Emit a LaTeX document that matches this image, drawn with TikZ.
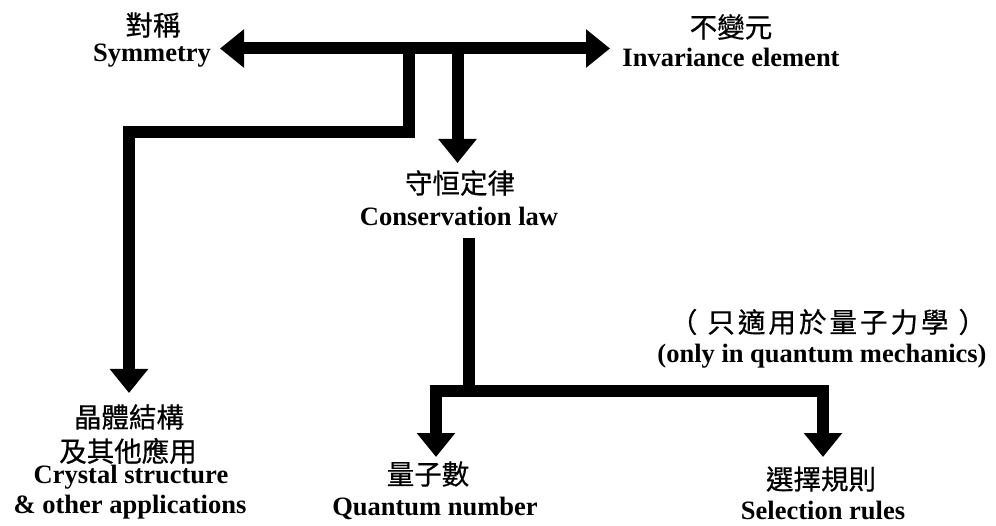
\documentclass[tikz,border=0pt]{standalone}
\usepackage{fontspec}
\setmainfont{Liberation Serif}
\newfontfamily\cjk[FakeBold=0.6]{Noto Sans CJK TC}
\newfontfamily\cjkwide[FakeBold=0.6,LetterSpace=11]{Noto Sans CJK TC}
\usetikzlibrary{arrows.meta}
\tikzset{
  bar/.style={line width=12pt, line join=miter, line cap=butt},
  tipd/.style={-{Triangle[width=37pt,length=24pt]}},
  lbl/.style={inner sep=0pt, align=center},
  zh/.style={lbl, font=\cjk\fontsize{27.5}{31}\selectfont},
  zhwide/.style={lbl, font=\cjkwide\fontsize{27.5}{31}\selectfont},
  en/.style={lbl, font=\bfseries\fontsize{26.5}{30}\selectfont},
}
\begin{document}
\begin{tikzpicture}[x=1pt,y=-1pt]
\useasboundingbox (0,0) rectangle (996,526);
% labels
\node[zh] (symzh) at (153,25) {對稱};
\node[en] (symen) at (152,56) {Symmetry};
\node[zh] (invzh) at (731,27) {不變元};
\node[en] (inven) at (731,57) {Invariance element};
\node[zh] (conzh) at (460,183) {守恒定律};
\node[en] (conen) at (459,216) {Conservation law};
\node[zh] (cr1) at (129,417) {晶體結構};
\node[zh] (cr2) at (128,451) {及其他應用};
\node[en] (cr3) at (131,477) {Crystal structure};
\node[en] (cr4) at (130,507) {\& other applications};
\node[zh] (qnzh) at (428,474) {量子數};
\node[en] (qnen) at (435,508) {Quantum number};
\node[zh] (slzh) at (821,479) {選擇規則};
\node[en] (slen) at (823,510) {Selection rules};
\node[zhwide] (qmzh) at (828,322) {（\hspace{10pt}只適用於量子力學\hspace{10pt}）};
\node[en] (qmen) at (822,356) {(only in quantum mechanics)};
% junction coordinates
\coordinate (tl) at (220,48.5);
\coordinate (tr) at (610,48.5);
\coordinate (j1) at (409,48.5);
\coordinate (k1) at (409,132);
\coordinate (k2) at (129,132);
\coordinate (crtip) at (129,393);
\coordinate (j2) at (457.5,48.5);
\coordinate (contip) at (457.5,163);
\coordinate (c0) at (469,238);
\coordinate (c1) at (469,391);
\coordinate (qa) at (436,391);
\coordinate (qtip) at (436,457);
\coordinate (sa) at (823,391);
\coordinate (stip) at (823,457);
% connectors
\draw[bar,{Triangle[width=37pt,length=24pt]}-{Triangle[width=37pt,length=24pt]}] (tl) -- (tr);
\draw[bar,tipd] (j1) -- (k1) -- (k2) -- (crtip);
\draw[bar,tipd] (j2) -- (contip);
\draw[bar] (c0) -- (c1);
\draw[bar,{Triangle[width=37pt,length=24pt]}-{Triangle[width=37pt,length=24pt]}] (qtip) -- (qa) -- (sa) -- (stip);
\end{tikzpicture}
\end{document}
